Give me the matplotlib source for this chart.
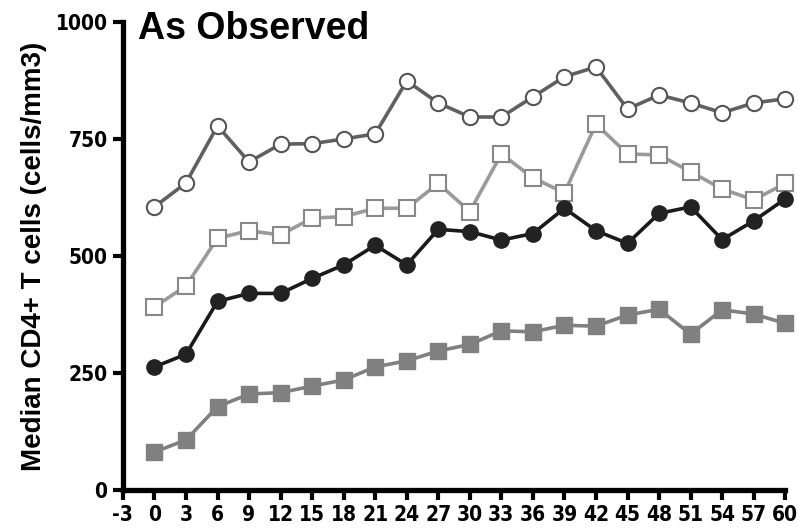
import matplotlib.pyplot as plt
from matplotlib import font_manager

months = list(range(0, 61, 3))
open_circles = [605, 656, 778, 701, 739, 740, 750, 761, 874, 827, 797, 797, 840,
                883, 904, 814, 844, 827, 806, 827, 836]
open_squares = [391, 436, 538, 554, 545, 581, 584, 602, 602, 655, 595, 718, 667,
                635, 782, 718, 716, 680, 643, 620, 655]
filled_circles = [263, 290, 403, 420, 420, 452, 481, 523, 481, 557, 552, 534, 548,
                  602, 554, 527, 591, 605, 535, 575, 622]
filled_squares = [81, 107, 178, 205, 208, 222, 235, 263, 276, 297, 311, 340, 338,
                  352, 350, 374, 386, 333, 385, 376, 356]
xticks = list(range(-3, 61, 3))
yticks = [0, 250, 500, 750, 1000]

names = set(f.name for f in font_manager.fontManager.ttflist)
narrow = 'Liberation Sans Narrow' if 'Liberation Sans Narrow' in names else 'DejaVu Sans'
print(narrow, [n for n in names if 'Narrow' in n or 'Condensed' in n])

fig = plt.figure(figsize=(7.98, 5.30), dpi=100)
ax = fig.add_axes([0.154, 0.0755, 0.83, 0.883])

ax.plot(months, open_circles, '-o', color='#606060', lw=2.6, ms=11,
        mfc='white', mec='#555555', mew=1.5, clip_on=False, zorder=3)
ax.plot(months, open_squares, '-s', color='#9a9a9a', lw=2.6, ms=11,
        mfc='white', mec='#888888', mew=1.5, clip_on=False, zorder=3)
ax.plot(months, filled_circles, '-o', color='#1a1a1a', lw=2.6, ms=11,
        mfc='#222222', mec='#222222', clip_on=False, zorder=4)
ax.plot(months, filled_squares, '-s', color='#808080', lw=2.6, ms=11,
        mfc='#808080', mec='#808080', clip_on=False, zorder=3)

ax.set_xlim(-3, 60)
ax.set_ylim(0, 1000)
ax.set_xticks(xticks)
ax.set_yticks(yticks)
ax.set_xticklabels([str(t) for t in xticks], family=narrow, fontsize=15,
                   fontweight='bold', fontstretch='condensed')
ax.set_yticklabels([str(t) for t in yticks], family=narrow, fontsize=15,
                   fontweight='bold', fontstretch='condensed')
ax.tick_params(direction='out', length=7, width=3, pad=4)
for s in ['top', 'right']:
    ax.spines[s].set_visible(False)
for s in ['left', 'bottom']:
    ax.spines[s].set_linewidth(3.8)

ax.set_ylabel('Median CD4+ T cells (cells/mm3)', fontsize=20, fontweight='bold',
              family='Liberation Sans', labelpad=6)
ax.text(-1.6, 985, 'As Observed', fontsize=27, fontweight='bold',
        family='Liberation Sans', va='center', ha='left')

plt.savefig('out.png', dpi=100)
